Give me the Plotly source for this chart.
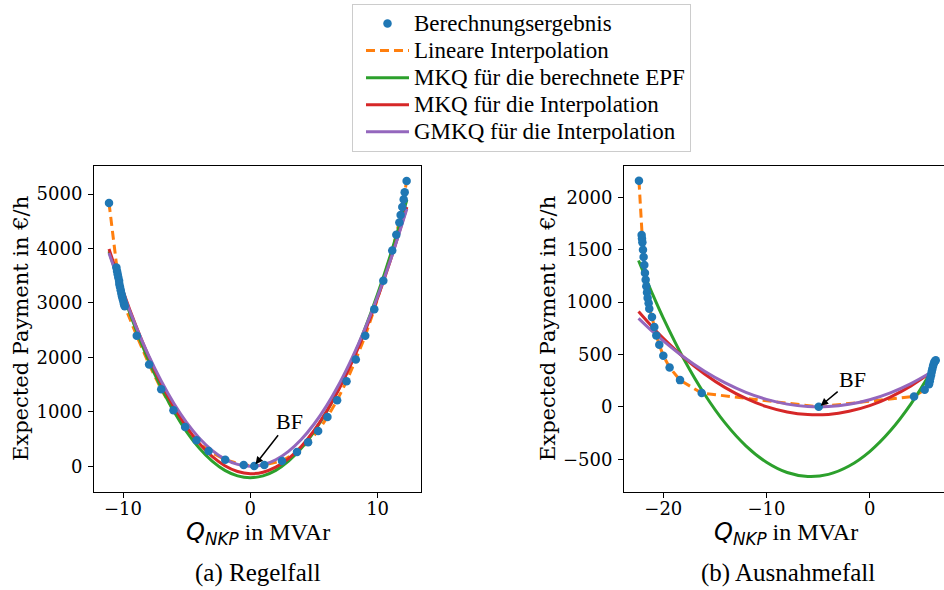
import plotly.graph_objects as go

# ---------------- data: (a) Regelfall ----------------
q_a = [-11.10, -10.52, -10.47, -10.42, -10.37, -10.31, -10.29, -10.24, -10.18, -10.13,
       -10.08, -10.03, -9.97, -9.92, -9.87, -8.92, -7.95, -7.00, -6.04, -5.12,
       -4.23, -3.28, -1.97, -0.52, 0.31, 1.10, 2.49, 3.67, 4.54, 5.33,
       6.06, 6.82, 7.56, 8.29, 9.03, 9.74, 10.45, 11.15, 11.47, 11.71,
       11.81, 11.94, 12.05, 12.13, 12.28]
epf_a = [4835, 3652, 3585, 3529, 3468, 3407, 3346, 3297, 3235, 3174,
         3125, 3076, 3027, 2978, 2941, 2396, 1869, 1415, 1029, 723,
         478, 282, 122, 25, 6, 25, 98, 263, 441, 650,
         907, 1213, 1562, 1961, 2396, 2886, 3407, 3964, 4252, 4479,
         4614, 4761, 4902, 5031, 5239]

fit_q_a = [-11.1, -10, -9, -8, -7, -6, -5, -4, -3, -2, -1, 0,
           1, 2, 3, 4, 5, 6, 7, 8, 9, 10, 11, 12.3]
mkq_epf_a = [3948, 3165, 2524, 1950, 1444, 1005, 634, 330, 94, -75, -176, -210,
             -176, -75, 94, 330, 634, 1005, 1444, 1950, 2524, 3165, 3874, 4896]
mkq_int_a = [3992, 3221, 2589, 2024, 1523, 1089, 721, 418, 181, 10, -95, -135,
             -108, -16, 142, 365, 655, 1010, 1431, 1918, 2471, 3090, 3774, 4762]
gmkq_int_a = [3916, 3182, 2580, 2041, 1566, 1153, 803, 517, 293, 132, 35, 0,
              28, 120, 274, 491, 772, 1115, 1521, 1991, 2523, 3119, 3777, 4727]
bf_a = (0.31, 6)

# ---------------- data: (b) Ausnahmefall ----------------
q_b = [-22.36, -22.10, -22.07, -22.03, -21.97, -21.91, -21.84, -21.78, -21.71, -21.65,
       -21.58, -21.52, -21.42, -21.36, -21.10, -20.87, -20.68, -20.39, -20.00, -19.39,
       -18.38, -16.28, -4.94, 4.30, 5.33, 5.75, 5.82, 5.88, 5.95, 6.01,
       6.07, 6.14, 6.22, 6.30, 6.40]
epf_b = [2159, 1640, 1608, 1570, 1500, 1430, 1354, 1277, 1213, 1150,
         1092, 1038, 990, 936, 857, 761, 682, 592, 487, 376,
         255, 131, 0, 99, 162, 215, 245, 275, 305, 335,
         362, 390, 415, 432, 445]

fit_q_b = [-22.4, -21, -20, -18, -16, -14, -12, -10, -8, -6, -4, -2, 0, 2, 4, 6]
mkq_epf_b = [1397, 1066, 847, 454, 120, -156, -372, -529, -627, -665, -645, -565,
             -427, -229, 28, 344]
mkq_int_b = [909, 755, 654, 471, 314, 183, 80, 2, -49, -74, -72, -43, 11, 93, 200, 334]
gmkq_int_b = [845, 715, 629, 473, 339, 228, 138, 71, 26, 3, 2, 24, 68, 134, 222, 332]
bf_b = (-4.94, 0)

names = ["Berechnungsergebnis", "Lineare Interpolation", "MKQ für die berechnete EPF",
         "MKQ für die Interpolation", "GMKQ für die Interpolation"]
colors = ["#1f77b4", "#ff7f0e", "#2ca02c", "#d62728", "#9467bd"]

SERIF = "DejaVu Serif"
TIMES = "Liberation Serif"


def leg(t):
    return '<span style="font-size:23px">' + t + '</span>'


fig = go.Figure()


def add_panel(xa, ya, q, epf, fq, g, r, p, show):
    fig.add_trace(go.Scatter(x=q, y=epf, mode="lines", name=leg(names[1]),
                             line=dict(color=colors[1], width=3, dash="9px,5px"),
                             xaxis=xa, yaxis=ya, showlegend=show, legendrank=2))
    fig.add_trace(go.Scatter(x=fq, y=g, mode="lines", name=leg(names[2]),
                             line=dict(color=colors[2], width=3, shape="spline"),
                             xaxis=xa, yaxis=ya, showlegend=show, legendrank=3))
    fig.add_trace(go.Scatter(x=fq, y=r, mode="lines", name=leg(names[3]),
                             line=dict(color=colors[3], width=3, shape="spline"),
                             xaxis=xa, yaxis=ya, showlegend=show, legendrank=4))
    fig.add_trace(go.Scatter(x=fq, y=p, mode="lines", name=leg(names[4]),
                             line=dict(color=colors[4], width=3, shape="spline"),
                             xaxis=xa, yaxis=ya, showlegend=show, legendrank=5))
    fig.add_trace(go.Scatter(x=q, y=epf, mode="markers", name=leg(names[0]),
                             marker=dict(color=colors[0], size=8.5, line=dict(width=0)),
                             xaxis=xa, yaxis=ya, showlegend=show, legendrank=1))


add_panel("x", "y", q_a, epf_a, fit_q_a, mkq_epf_a, mkq_int_a, gmkq_int_a, True)
add_panel("x2", "y2", q_b, epf_b, fit_q_b, mkq_epf_b, mkq_int_b, gmkq_int_b, False)

W, H = 944, 590
ydom = [1 - 492 / H, 1 - 166 / H]
tickfont = dict(family=SERIF, size=18, color="black")
axcommon = dict(showgrid=False, zeroline=False, showline=True, linecolor="black", linewidth=1,
                ticks="outside", ticklen=5, tickwidth=1, tickcolor="black", tickfont=tickfont)

fig.update_layout(
    width=W, height=H,
    margin=dict(l=0, r=0, t=0, b=0),
    paper_bgcolor="white", plot_bgcolor="white",
    xaxis=dict(domain=[94 / W, 421 / W], range=[-12.28, 13.41], tickvals=[-10, 0, 10],
               mirror=True, anchor="y", ticklabelstandoff=-5, **axcommon),
    yaxis=dict(domain=ydom, range=[-472, 5515], tickvals=[0, 1000, 2000, 3000, 4000, 5000],
               mirror=True, anchor="x", ticklabelstandoff=2, **axcommon),
    xaxis2=dict(domain=[624 / W, 1.0], range=[-23.81, 7.20], tickvals=[-20, -10, 0],
                mirror=True, anchor="y2", ticklabelstandoff=-5, **axcommon),
    yaxis2=dict(domain=ydom, range=[-813, 2299], tickvals=[-500, 0, 500, 1000, 1500, 2000],
                mirror=False, anchor="x2", ticklabelstandoff=2, **axcommon),
    legend=dict(x=352 / W, xanchor="left", y=1 - 4 / H, yanchor="top",
                font=dict(family=TIMES, size=18.5, color="black"),
                bordercolor="#cccccc", borderwidth=1, bgcolor="white",
                traceorder="normal", indentation=8, itemwidth=43),
    showlegend=True,
)

ytitle = "Expected Payment in €/h"
xtitle = ('<span style="font-family:DejaVu Sans"><i>Q</i><sub><i>NKP</i></sub></span>'
          ' in MVAr')
annots = [
    dict(x=21 / W, y=1 - 329 / H, text=ytitle, textangle=-90,
         font=dict(family=SERIF, size=21, color="black")),
    dict(x=548 / W, y=1 - 329 / H, text=ytitle, textangle=-90,
         font=dict(family=SERIF, size=21, color="black")),
    dict(x=257.5 / W, y=1 - 533 / H, text=xtitle,
         font=dict(family=TIMES, size=24, color="black")),
    dict(x=786 / W, y=1 - 533 / H, text=xtitle,
         font=dict(family=TIMES, size=24, color="black")),
    dict(x=258 / W, y=1 - 573 / H, text="(a) Regelfall",
         font=dict(family=TIMES, size=25, color="black")),
    dict(x=788 / W, y=1 - 573 / H, text="(b) Ausnahmefall",
         font=dict(family=TIMES, size=25, color="black")),
]
for a in annots:
    a.update(xref="paper", yref="paper", showarrow=False, xanchor="center", yanchor="middle")
    fig.add_annotation(**a)

# BF annotations with arrows
fig.add_annotation(x=bf_a[0] + 0.1, y=bf_a[1] + 30, xref="x", yref="y",
                   ax=3.04, ay=827, axref="x", ayref="y", text="BF",
                   font=dict(family=TIMES, size=22, color="black"),
                   showarrow=True, arrowhead=2, arrowsize=1, arrowwidth=1.5,
                   arrowcolor="black", standoff=0)
fig.add_annotation(x=bf_b[0] + 0.19, y=bf_b[1] + 10, xref="x2", yref="y2",
                   ax=-1.65, ay=265, axref="x2", ayref="y2", text="BF",
                   font=dict(family=TIMES, size=22, color="black"),
                   showarrow=True, arrowhead=2, arrowsize=1, arrowwidth=1.5,
                   arrowcolor="black", standoff=0)

fig.write_html("out.html", config={"displayModeBar": False},
               post_script="document.body.style.margin='0';")
